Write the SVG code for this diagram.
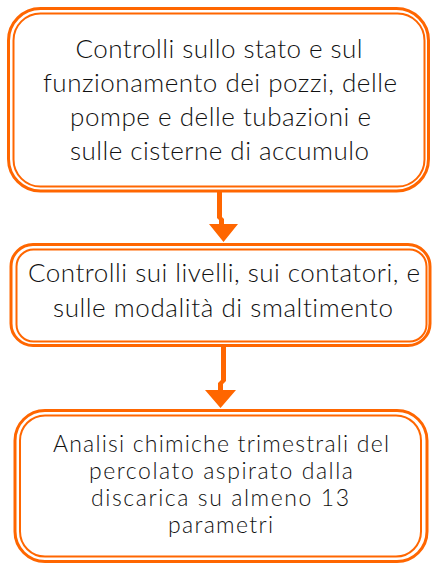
<svg xmlns="http://www.w3.org/2000/svg" width="432" height="563" viewBox="0 0 432 563">
<style>
.o{fill:none;stroke:#FF6600;stroke-width:3}
.i{fill:#fff;stroke:#FF6600;stroke-width:2}
.t{font-family:Lato,"Liberation Sans",sans-serif;font-weight:300;fill:#111;text-anchor:middle;font-variant-ligatures:none;font-feature-settings:"liga" 0}
.a{fill:#FF6600}
</style>
<rect width="432" height="563" fill="#fff"/>
<g id="node1">
<rect class="o" x="8.5" y="8.5" width="420" height="182.5" rx="32"/>
<rect class="i" x="13.5" y="13.5" width="411" height="173" rx="27"/>
<text class="t" font-size="26" lengthAdjust="spacingAndGlyphs"><tspan x="219" y="58" textLength="287">Controlli sullo stato e sul</tspan><tspan x="220" y="92" textLength="354">funzionamento dei pozzi, delle</tspan><tspan x="220.5" y="126" textLength="301">pompe e delle tubazioni e</tspan><tspan x="219.5" y="160" textLength="299">sulle cisterne di accumulo</tspan></text>
</g>
<g id="node2">
<rect class="o" x="11" y="244.5" width="419" height="101" rx="22"/>
<rect class="i" x="16.5" y="249.5" width="410" height="92" rx="17"/>
<text class="t" font-size="26" lengthAdjust="spacingAndGlyphs"><tspan x="224" y="282" textLength="392">Controlli sui livelli, sui contatori, e</tspan><tspan x="223" y="317" textLength="340">sulle modalità di smaltimento</tspan></text>
</g>
<g id="node3">
<rect class="o" x="15" y="410.5" width="412" height="151" rx="30"/>
<rect class="i" x="20" y="415.5" width="401" height="141" rx="25"/>
<text class="t" font-size="23" lengthAdjust="spacingAndGlyphs"><tspan x="221" y="452" textLength="336">Analisi chimiche trimestrali del</tspan><tspan x="221" y="479" textLength="264">percolato aspirato dalla</tspan><tspan x="220" y="506" textLength="258">discarica su almeno 13</tspan><tspan x="220.5" y="533" textLength="105">parametri</tspan></text>
</g>
<g id="connectors">
<polygon class="a" points="217,192 222,192 222,217 224,219 224,224 238,224 223.5,242 209,224 219,224 219,220 217,218"/>
<polygon class="a" points="221,347 226,347 226,381 223,384 223,390 236,390 220.5,408 205,390 218,390 218,383 221,380"/>
</g>
</svg>
